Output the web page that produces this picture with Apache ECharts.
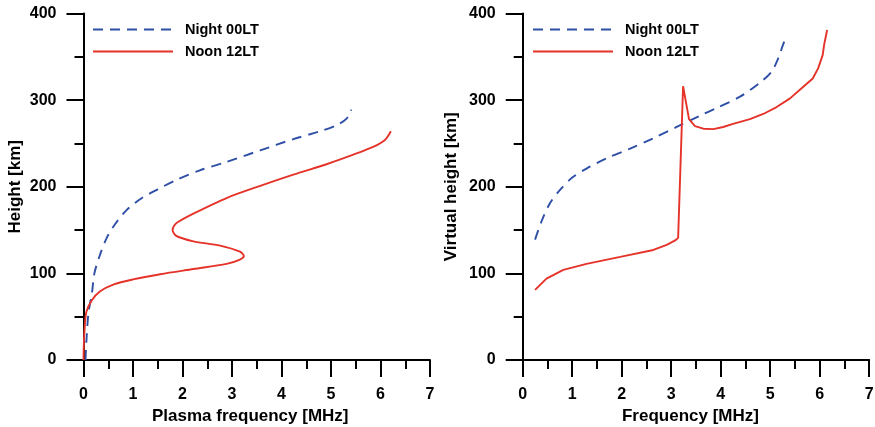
<!DOCTYPE html>
<html>
<head>
<meta charset="utf-8">
<script src="https://cdn.jsdelivr.net/npm/echarts@6/dist/echarts.min.js"></script>
<style>html,body{margin:0;padding:0;background:#fff}#c{width:875px;height:427px}</style>
</head>
<body>
<div id="c"></div>
<script>
// Left panel: plasma frequency [MHz] vs height [km]
const nightPlasma = [[0.04,0],[0.06,23],[0.1,54],[0.17,77],[0.22,100],[0.33,121],[0.47,141],[0.64,157],[0.87,173],[1.18,187],[1.5,197],[1.88,208],[2.35,219],[2.85,228],[3.57,242],[4.24,255],[4.78,264],[5.11,271],[5.32,279],[5.41,289]];
const noonPlasma = [[0,0],[0.01,23],[0.03,42],[0.06,56],[0.17,69],[0.33,79],[0.6,87],[1.0,93],[1.55,99],[2.22,105],[2.89,111],[3.16,116],[3.24,120],[3.16,125],[2.76,132],[2.22,137],[1.92,142],[1.84,145],[1.8,150],[1.83,155],[1.9,159],[2.22,169],[2.89,187],[3.57,201],[4.24,214],[4.91,226],[5.45,237],[5.85,246],[6.09,254],[6.21,264]];
// Right panel: frequency [MHz] vs virtual height [km]
const nightVirtual = [[0.25,139],[0.38,160],[0.55,181],[0.75,196],[0.99,210],[1.29,221],[1.7,233],[2.17,244],[2.64,256],[3.11,269],[3.58,282],[3.92,291],[4.39,304],[4.79,320],[5.03,333],[5.16,348],[5.26,364],[5.33,375]];
const noonVirtual = [[0.25,81],[0.48,94],[0.82,104],[1.29,111],[1.97,119],[2.64,127],[2.91,133],[3.08,138],[3.14,141],[3.24,316],[3.36,278],[3.48,270],[3.65,267],[3.85,266.5],[4.05,269],[4.25,272.5],[4.59,278],[4.86,284],[5.13,292],[5.4,302],[5.64,314],[5.86,325],[5.97,337],[6.06,352],[6.09,364],[6.15,381]];

const seriesNames = ['Night 00LT','Noon 12LT'];
const xTitles = ['Plasma frequency [MHz]','Frequency [MHz]'];
const yTitles = ['Height [km]','Virtual height [km]'];

const FONT = '"Liberation Sans", Arial, sans-serif';
const BLUE = '#2f4fa6';
const RED = '#e5332a';

function xAxis(i, padR) {
  return {
    type:'value', gridIndex:i, min:0, max:7, interval:1,
    name:xTitles[i], nameLocation:'middle', nameGap:46,
    nameTextStyle:{fontFamily:FONT, fontWeight:'bold', fontSize:17, color:'#000', padding:[0,padR,0,0]},
    axisLine:{show:true, onZero:false, lineStyle:{color:'#000', width:2}},
    axisTick:{show:true, inside:false, length:17, lineStyle:{color:'#000', width:2}},
    minorTick:{show:true, splitNumber:2, length:9, lineStyle:{color:'#000', width:2}},
    splitLine:{show:false},
    axisLabel:{fontFamily:FONT, fontWeight:'bold', fontSize:16, color:'#000', margin:27}
  };
}
function yAxis(i, gap) {
  return {
    type:'value', gridIndex:i, min:0, max:400, interval:100,
    name:yTitles[i], nameLocation:'middle', nameGap:gap,
    nameTextStyle:{fontFamily:FONT, fontWeight:'bold', fontSize:17, color:'#000'},
    axisLine:{show:true, onZero:false, lineStyle:{color:'#000', width:2}},
    axisTick:{show:true, inside:false, length:17, lineStyle:{color:'#000', width:2}},
    minorTick:{show:true, splitNumber:2, length:9, lineStyle:{color:'#000', width:2}},
    splitLine:{show:false},
    axisLabel:{fontFamily:FONT, fontWeight:'bold', fontSize:16, color:'#000', margin:27}
  };
}
function legend(left) {
  return {
    data:seriesNames, orient:'vertical', left:left, top:22, padding:0,
    itemWidth:80, itemHeight:14, itemGap:7,
    itemStyle:{opacity:0},
    textStyle:{fontFamily:FONT, fontWeight:'bold', fontSize:14.5, color:'#000', padding:[0,0,0,7]},
    selectedMode:false
  };
}
function line(name, data, xi, color, dashed, smooth) {
  return {
    name:name, type:'line', xAxisIndex:xi, yAxisIndex:xi, data:data,
    showSymbol:false, symbol:'circle', smooth:smooth, animation:false, clip:false,
    lineStyle:{color:color, width:1.9, type: dashed ? [10,7] : 'solid'},
    itemStyle:{color:color}
  };
}

const chart = echarts.init(document.getElementById('c'), null, {renderer:'canvas'});
chart.setOption({
  animation:false,
  backgroundColor:'#fff',
  grid:[
    {left:83.5, top:13.5, width:346.5, height:346.5, containLabel:false, outerBoundsMode:'none'},
    {left:522.7, top:13.5, width:346.5, height:346.5, containLabel:false, outerBoundsMode:'none'}
  ],
  legend:[legend(92), legend(532)],
  xAxis:[xAxis(0,13), xAxis(1,11)],
  yAxis:[yAxis(0,60), yAxis(1,63)],
  series:[
    line(seriesNames[0], nightPlasma, 0, BLUE, true, 0.3),
    line(seriesNames[1], noonPlasma, 0, RED, false, 0.3),
    line(seriesNames[0], nightVirtual, 1, BLUE, true, 0.3),
    line(seriesNames[1], noonVirtual, 1, RED, false, false)
  ]
});
</script>
</body>
</html>
